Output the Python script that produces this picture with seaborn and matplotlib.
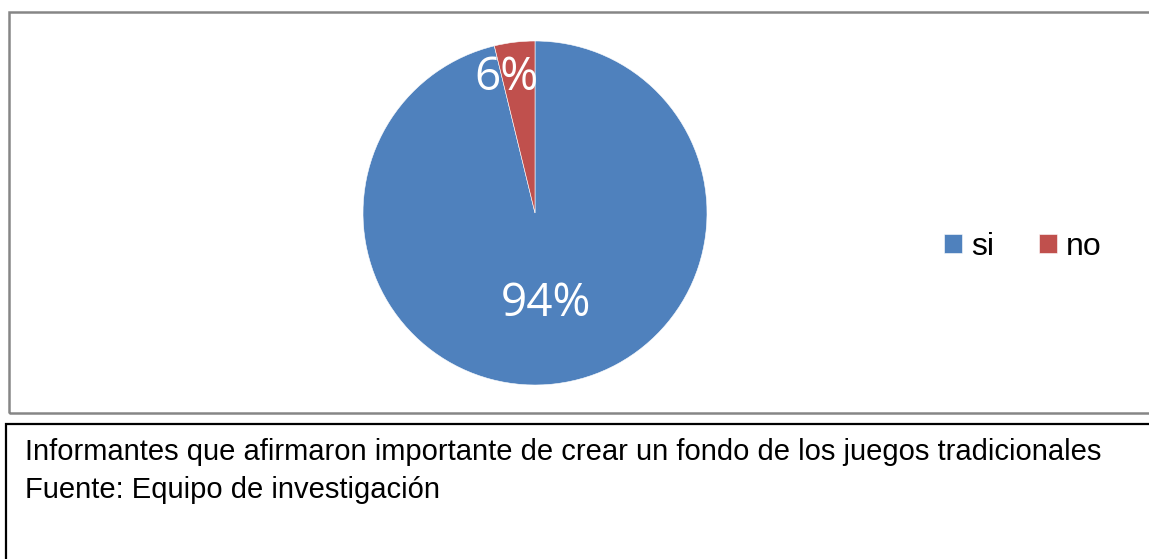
import numpy as np
import seaborn as sns
import matplotlib.pyplot as plt
from matplotlib.patches import Rectangle

# data
categories = ["si", "no"]
shares = [96.2, 3.8]          # wedge sizes as drawn
pct_labels = ["94%", "6%"]    # labels printed on the wedges
caption = ["Informantes que afirmaron importante de crear un fondo de los juegos tradicionales",
           "Fuente: Equipo de investigación"]

sns.set_theme(style="white")
colors = sns.color_palette(["#4F81BD", "#C0504D"])

W, H = 1149, 559
fig = plt.figure(figsize=(W / 100, H / 100), dpi=100)


def fx(px):
    return px / W


def fy(py):
    return 1 - py / H


# chart frame (grey) and caption box (black)
fig.patches.append(Rectangle((fx(8.5), fy(413)), fx(1200), fy(12) - fy(413),
                             transform=fig.transFigure, fill=False,
                             edgecolor="#868686", linewidth=1.8))
fig.patches.append(Rectangle((fx(5.5), fy(600)), fx(1200), fy(423.5) - fy(600),
                             transform=fig.transFigure, fill=False,
                             edgecolor="black", linewidth=1.6))

# pie
cx, cy, r = 535, 213, 172
ax = fig.add_axes([fx(cx - r), fy(cy + r), fx(2 * r), fy(cy - r) - fy(cy + r)])
wedges, _ = ax.pie(shares, colors=colors, startangle=90, counterclock=False,
                   radius=1, wedgeprops=dict(linewidth=0.4, edgecolor="white"))
ax.set_xlim(-1, 1)
ax.set_ylim(-1, 1)
ax.set_aspect("equal")
ax.axis("off")

label_dist = [0.53, 0.80]
label_shift = [0, 5]
for w, lab, d, s in zip(wedges, pct_labels, label_dist, label_shift):
    ang = np.deg2rad((w.theta1 + w.theta2) / 2 + s)
    ax.text(d * np.cos(ang), d * np.sin(ang), lab, ha="center", va="center",
            color="white", fontsize=33, family="Open Sans")

# legend
fig.legend(wedges, categories, loc="center", bbox_to_anchor=(fx(1023), fy(247)),
           ncol=2, frameon=False, handlelength=0.55, handleheight=0.55,
           handletextpad=0.3, columnspacing=1.4, labelcolor="black",
           prop=dict(family="Liberation Sans", size=23))

# caption
for i, line in enumerate(caption):
    fig.text(fx(25), fy(452 + 38 * i), line, ha="left", va="center",
             fontsize=21, family="Liberation Sans", color="black")

fig.savefig("out.png", dpi=100)
